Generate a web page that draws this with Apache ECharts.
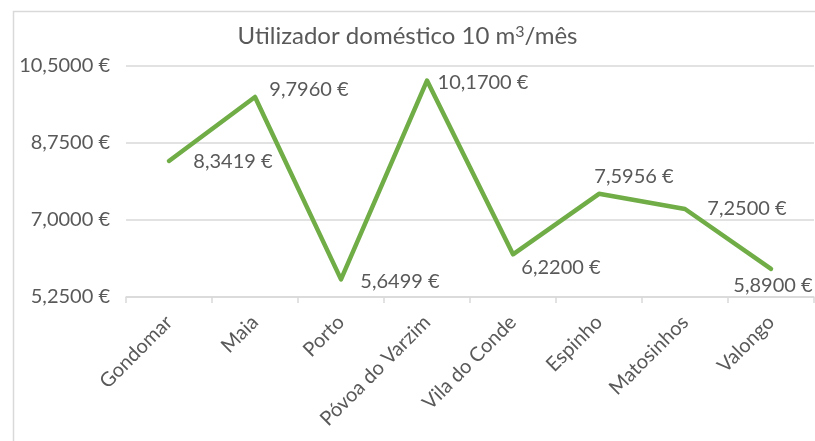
<!DOCTYPE html>
<html>
<head>
<meta charset="utf-8">
<script src="https://cdn.jsdelivr.net/npm/echarts@6/dist/echarts.min.js"></script>
<style>
html,body{margin:0;padding:0;background:#fff;}
#chart{width:815px;height:441px;}
</style>
</head>
<body>
<div id="chart"></div>
<script>
const categories = ['Gondomar','Maia','Porto','Póvoa do Varzim','Vila do Conde','Espinho','Matosinhos','Valongo'];
const values = [8.3419, 9.7960, 5.6499, 10.1700, 6.2200, 7.5956, 7.2500, 5.8900];
const yMin = 5.25, yMax = 10.5, yStep = 1.75;
// label offsets relative to each point (style only)
const labelOffsets = [[64,1],[54,-7],[59,2],[56,2],[48,13],[35,-17],[62,0],[2,17]];

const fmt = v => v.toFixed(4).replace('.', ',') + ' €';
const TXT = '#595959', GRID = '#D9D9D9', FONT = 'Lato';

const chart = echarts.init(document.getElementById('chart'));
chart.setOption({
  animation: false,
  backgroundColor: '#fff',
  graphic: [{
    type: 'rect', left: 11, top: 9, shape: {width: 900, height: 500},
    style: {fill: 'none', stroke: GRID, lineWidth: 1.5}, silent: true, z: -1
  }],
  title: {
    text: 'Utilizador doméstico 10 m{sup|3}/mês',
    left: 'center', top: 19, padding: [5, 0, 5, 10],
    textStyle: {
      fontFamily: FONT, fontSize: 24, fontWeight: 'normal', color: TXT,
      rich: { sup: {fontFamily: FONT, fontSize: 16, color: TXT, verticalAlign: 'top'} }
    }
  },
  grid: {left: 126, right: 1, top: 66, bottom: 144},
  xAxis: {
    type: 'category', data: categories, boundaryGap: true,
    axisLine: {lineStyle: {color: GRID, width: 1.5}},
    axisTick: {show: true, length: 6, lineStyle: {color: GRID, width: 1.5}},
    axisLabel: {rotate: 45, margin: 22, color: TXT, fontFamily: FONT, fontSize: 20, interval: 0}
  },
  yAxis: {
    type: 'value', min: yMin, max: yMax, interval: yStep,
    axisLine: {show: false}, axisTick: {show: false},
    splitLine: {lineStyle: {color: GRID, width: 1.5}},
    axisLabel: {margin: 16, color: TXT, fontFamily: FONT, fontSize: 20, formatter: fmt}
  },
  series: [{
    type: 'line',
    data: values.map((v, i) => ({
      value: v,
      label: {offset: labelOffsets[i]}
    })),
    symbol: 'circle', symbolSize: 1, showSymbol: true,
    itemStyle: {color: '#70AD47'},
    lineStyle: {color: '#70AD47', width: 4.5, cap: 'round', join: 'round'},
    label: {
      show: true, position: 'inside', color: TXT, fontFamily: FONT, fontSize: 20,
      formatter: p => fmt(p.value)
    }
  }]
});
</script>
</body>
</html>
